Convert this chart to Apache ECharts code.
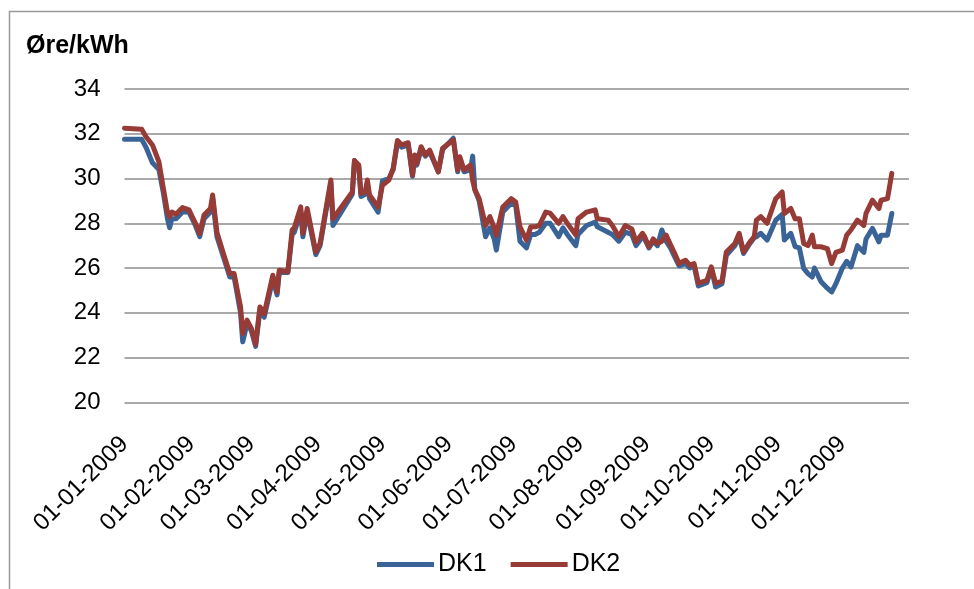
<!DOCTYPE html>
<html>
<head>
<meta charset="utf-8">
<script src="https://cdn.jsdelivr.net/npm/echarts@6/dist/echarts.min.js"></script>
<style>
  html, body { margin: 0; padding: 0; background: #fff; }
  #main { width: 974px; height: 589px; }
</style>
</head>
<body>
<div id="main"></div>
<script>
// datoer (dag i 2009) og priser i øre/kWh
var dates = [
  '2009-01-01','2009-01-09','2009-01-11','2009-01-14','2009-01-17','2009-01-19','2009-01-21','2009-01-22','2009-01-23','2009-01-25',
  '2009-01-28','2009-01-31','2009-02-03','2009-02-05','2009-02-07','2009-02-10','2009-02-11','2009-02-13','2009-02-16','2009-02-19',
  '2009-02-21','2009-02-24','2009-02-25','2009-02-27','2009-03-01','2009-03-03','2009-03-05','2009-03-07','2009-03-11','2009-03-13',
  '2009-03-14','2009-03-18','2009-03-20','2009-03-21','2009-03-24','2009-03-25','2009-03-27','2009-03-31','2009-04-02','2009-04-07',
  '2009-04-08','2009-04-17','2009-04-18','2009-04-20','2009-04-21','2009-04-23','2009-04-24','2009-04-25','2009-04-29','2009-05-01',
  '2009-05-04','2009-05-06','2009-05-08','2009-05-10','2009-05-13','2009-05-15','2009-05-16','2009-05-17','2009-05-19','2009-05-21',
  '2009-05-23','2009-05-27','2009-05-29','2009-06-03','2009-06-05','2009-06-06','2009-06-08','2009-06-11','2009-06-12','2009-06-13',
  '2009-06-15','2009-06-18','2009-06-20','2009-06-22','2009-06-23','2009-06-26','2009-06-30','2009-07-02','2009-07-04','2009-07-07',
  '2009-07-09','2009-07-11','2009-07-13','2009-07-16','2009-07-18','2009-07-22','2009-07-24','2009-07-26','2009-07-30','2009-07-31',
  '2009-08-04','2009-08-08','2009-08-09','2009-08-14','2009-08-16','2009-08-19','2009-08-22','2009-08-25','2009-08-27','2009-08-30',
  '2009-08-31','2009-09-02','2009-09-04','2009-09-06','2009-09-08','2009-09-10','2009-09-12','2009-09-14','2009-09-16','2009-09-19',
  '2009-09-21','2009-09-23','2009-09-25','2009-09-29','2009-10-01','2009-10-03','2009-10-06','2009-10-08','2009-10-12','2009-10-14',
  '2009-10-16','2009-10-19','2009-10-21','2009-10-22','2009-10-24','2009-10-27','2009-10-31','2009-11-03','2009-11-04','2009-11-07',
  '2009-11-09','2009-11-11','2009-11-13','2009-11-15','2009-11-17','2009-11-18','2009-11-21','2009-11-24','2009-11-26','2009-11-28',
  '2009-12-01','2009-12-03','2009-12-05','2009-12-08','2009-12-11','2009-12-12','2009-12-15','2009-12-18','2009-12-19','2009-12-22',
  '2009-12-24'
];
var dk1 = [
  31.75, 31.75, 31.4, 30.7, 30.4, 29.4, 28.2, 27.8, 28.2, 28.2,
  28.5, 28.5, 27.9, 27.4, 28.2, 28.5, 29.1, 27.4, 26.5, 25.6,
  25.6, 24.0, 22.7, 23.5, 23.2, 22.5, 24.1, 23.8, 25.5, 24.8,
  25.8, 25.8, 27.5, 27.6, 28.5, 27.4, 28.5, 26.6, 27.0, 29.8,
  27.9, 29.3, 30.8, 30.5, 29.2, 29.3, 29.8, 29.1, 28.5, 29.9,
  30.0, 30.4, 31.6, 31.4, 31.5, 30.1, 30.9, 30.6, 31.3, 31.0,
  31.2, 30.3, 31.3, 31.8, 30.3, 30.9, 30.3, 30.4, 31.0, 29.5,
  29.0, 27.4, 27.8, 27.3, 26.8, 28.5, 28.9, 28.8, 27.2, 26.9,
  27.5, 27.5, 27.6, 28.0, 28.0, 27.4, 27.8, 27.5, 27.0, 27.5,
  27.9, 28.05, 27.84, 27.6, 27.5, 27.2, 27.6, 27.5, 27.0, 27.4,
  27.3, 26.9, 27.2, 27.0, 27.7, 27.2, 26.9, 26.5, 26.1, 26.2,
  26.0, 26.1, 25.2, 25.35, 26.0, 25.15, 25.3, 26.57, 27.0, 27.4,
  26.65, 27.1, 27.35, 27.4, 27.55, 27.25, 28.14, 28.4, 27.25, 27.55,
  26.96, 26.9, 25.98, 25.75, 25.6, 26.0, 25.4, 25.1, 24.93, 25.3,
  26.0, 26.3, 26.05, 27.0, 26.7, 27.3, 27.77, 27.17, 27.47, 27.47,
  28.44
];
var dk2 = [
  32.25, 32.2, 31.87, 31.5, 30.75, 29.6, 28.5, 28.3, 28.5, 28.4,
  28.7, 28.6, 28.0, 27.55, 28.37, 28.66, 29.26, 27.6, 26.65, 25.75,
  25.75, 24.26, 23.07, 23.67, 23.3, 22.6, 24.26, 23.96, 25.68, 24.93,
  25.9, 25.83, 27.7, 27.8, 28.73, 27.55, 28.66, 26.72, 27.1, 29.93,
  28.2, 29.4, 30.8, 30.6, 29.33, 29.4, 29.93, 29.26, 28.73, 29.7,
  29.93, 30.45, 31.7, 31.5, 31.6, 30.15, 31.05, 30.67, 31.42, 31.05,
  31.27, 30.3, 31.35, 31.72, 30.38, 30.97, 30.38, 30.6, 29.9, 29.5,
  29.1, 27.9, 28.3, 27.8, 27.47, 28.73, 29.1, 28.95, 27.84, 27.25,
  27.84, 27.84, 27.9, 28.5, 28.45, 28.0, 28.3, 28.0, 27.47, 28.2,
  28.5, 28.6, 28.2, 28.14, 27.9, 27.4, 27.9, 27.75, 27.17, 27.55,
  27.4, 26.95, 27.3, 27.1, 27.2, 27.47, 27.05, 26.65, 26.2, 26.35,
  26.13, 26.2, 25.33, 25.45, 26.05, 25.33, 25.4, 26.72, 27.1, 27.55,
  26.72, 27.17, 27.4, 28.14, 28.3, 28.0, 29.1, 29.4, 28.44, 28.66,
  28.2, 28.2, 27.1, 27.0, 27.47, 26.95, 26.95, 26.87, 26.2, 26.7,
  26.8, 27.47, 27.7, 28.14, 27.9, 28.44, 29.03, 28.66, 29.03, 29.1,
  30.23
];
var seriesNames = ['DK1', 'DK2'];
var seriesColors = ['#3A6497', '#973B37'];
var yTicks = [20, 22, 24, 26, 28, 30, 32, 34];

function pairs (vals) {
    return dates.map(function (d, i) { return [d, vals[i]] })
}
function pad (n) { return (n < 10 ? '0' : '') + n }

var myChart = echarts.init(document.getElementById('main'))
myChart.setOption({
    animation: false,
    textStyle: { fontFamily: '"Liberation Sans", Arial, sans-serif' },
    graphic: [
        {
            // ramme om diagrammet
            type: 'rect',
            shape: { x: 9.5, y: 11.5, width: 1200, height: 1200 },
            style: { fill: 'none', stroke: '#999', lineWidth: 1.5 }
        },
        {
            type: 'text',
            left: 26,
            top: 34,
            style: {
                text: 'Øre/kWh',
                fill: '#000',
                font: 'bold 25px "Liberation Sans", Arial, sans-serif'
            }
        }
    ],
    grid: {
        left: 124.5,
        right: 65,
        top: 89,
        bottom: 186.7
    },
    legend: {
        left: 377,
        top: 552,
        padding: 0,
        icon: 'rect',
        itemWidth: 57,
        itemHeight: 5,
        itemGap: 24,
        textStyle: { fontSize: 25, color: '#000', padding: [0, 0, 0, -1] },
        data: seriesNames
    },
    xAxis: {
        type: 'time',
        min: '2009-01-01',
        max: '2010-01-01',
        minInterval: 28 * 86400000,
        maxInterval: 31 * 86400000,
        axisLine: { show: false },
        axisTick: { show: false },
        splitLine: { show: false },
        axisLabel: {
            rotate: 45,
            margin: 38,
            fontSize: 24,
            color: '#000',
            fontWeight: 'normal',
            showMaxLabel: false,
            formatter: function (v) {
                var d = new Date(v)
                if (d.getFullYear() !== 2009) return ''
                return pad(d.getDate()) + '-' + pad(d.getMonth() + 1) + '-' + d.getFullYear()
            }
        }
    },
    yAxis: {
        type: 'value',
        min: yTicks[0],
        max: yTicks[yTicks.length - 1],
        interval: 2,
        axisLine: { show: false },
        axisTick: { show: false },
        axisLabel: { fontSize: 24, color: '#000', margin: 24 },
        splitLine: { lineStyle: { color: '#8c8c8c', width: 1.5 } }
    },
    series: [
        {
            name: seriesNames[0],
            type: 'line',
            showSymbol: false,
            symbol: 'none',
            color: seriesColors[0],
            lineStyle: { width: 5, join: 'round', cap: 'round' },
            data: pairs(dk1)
        },
        {
            name: seriesNames[1],
            type: 'line',
            showSymbol: false,
            symbol: 'none',
            color: seriesColors[1],
            lineStyle: { width: 5, join: 'round', cap: 'round' },
            data: pairs(dk2)
        }
    ]
})
</script>
</body>
</html>
